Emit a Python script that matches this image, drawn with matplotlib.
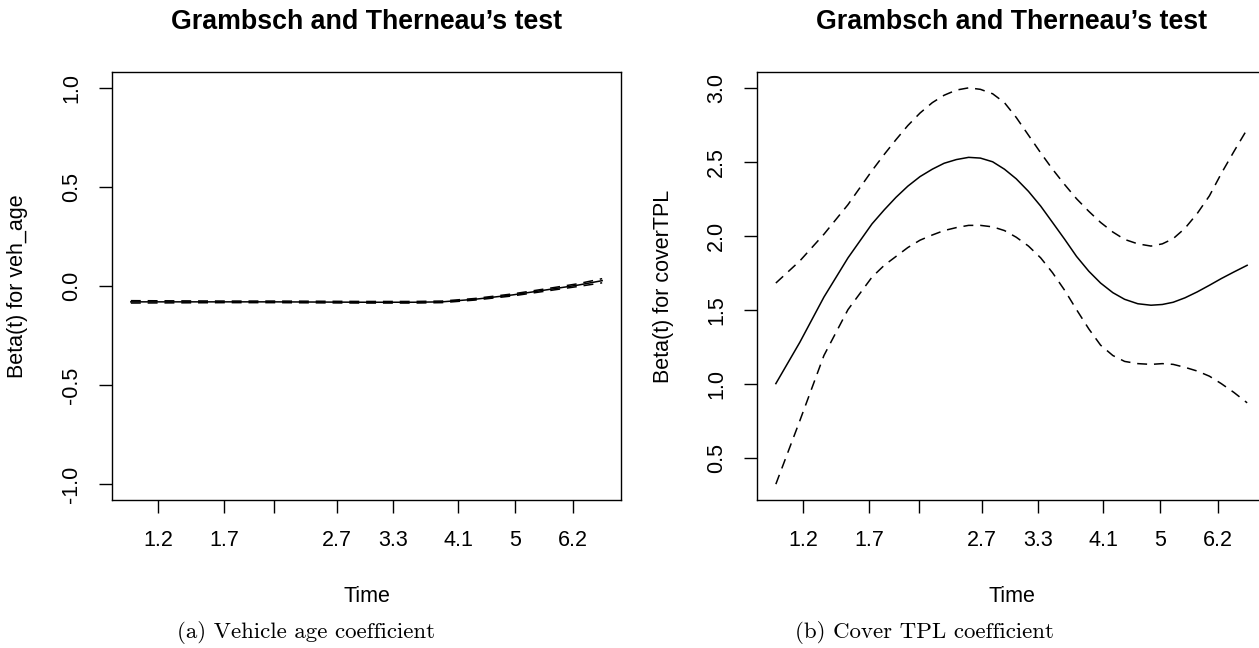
import matplotlib
matplotlib.use("Agg")
import matplotlib.pyplot as plt

plt.rcParams['font.family'] = ['Liberation Sans', 'DejaVu Sans']

# transformed time axis (0 = first event, 1 = last event)
tick_pos = [0.0576, 0.1977, 0.3038, 0.4375, 0.5563, 0.6943, 0.8152, 0.9383]
tick_labels = ['1.2', '1.7', '', '2.7', '3.3', '4.1', '5', '6.2']

# panel (a): vehicle age
xa = [0.0, 0.1, 0.2, 0.3, 0.4, 0.5, 0.6, 0.66, 0.73, 0.81, 0.9, 0.95, 1.0]
fit_a = [-0.080, -0.080, -0.080, -0.080, -0.081, -0.082, -0.082, -0.080, -0.067, -0.045, -0.013, 0.005, 0.027]
up_a = [-0.074, -0.075, -0.076, -0.076, -0.077, -0.078, -0.078, -0.076, -0.063, -0.040, -0.007, 0.012, 0.037]
lo_a = [-0.086, -0.085, -0.084, -0.084, -0.085, -0.086, -0.086, -0.084, -0.071, -0.050, -0.019, -0.002, 0.016]

# panel (b): cover TPL
xb = [0.0, 0.051, 0.102, 0.153, 0.204, 0.23, 0.255, 0.28, 0.306, 0.332, 0.357, 0.383, 0.409, 0.434,
      0.46, 0.485, 0.51, 0.536, 0.562, 0.587, 0.613, 0.638, 0.664, 0.689, 0.715, 0.740, 0.768,
      0.796, 0.82, 0.843, 0.868, 0.894, 0.92, 0.945, 0.972, 1.0]
fit_b = [1.00, 1.28, 1.585, 1.85, 2.08, 2.175, 2.26, 2.335, 2.40, 2.45, 2.49, 2.515, 2.53, 2.525,
         2.50, 2.45, 2.385, 2.30, 2.20, 2.09, 1.975, 1.86, 1.76, 1.68, 1.615, 1.57, 1.54,
         1.53, 1.535, 1.55, 1.58, 1.62, 1.665, 1.71, 1.755, 1.80]
up_b = [1.68, 1.83, 2.01, 2.21, 2.44, 2.55, 2.65, 2.745, 2.83, 2.90, 2.95, 2.985, 3.00, 2.99,
        2.96, 2.90, 2.80, 2.68, 2.56, 2.45, 2.345, 2.25, 2.165, 2.09, 2.025, 1.975, 1.945,
        1.93, 1.945, 1.98, 2.05, 2.15, 2.27, 2.42, 2.57, 2.72]
lo_b = [0.32, 0.75, 1.19, 1.50, 1.72, 1.80, 1.86, 1.92, 1.97, 2.005, 2.035, 2.055, 2.07, 2.07,
        2.06, 2.035, 1.99, 1.93, 1.85, 1.75, 1.63, 1.50, 1.37, 1.26, 1.19, 1.15, 1.135,
        1.13, 1.135, 1.13, 1.11, 1.085, 1.05, 1.0, 0.94, 0.87]

W, H = 1259, 648
fig = plt.figure(figsize=(W / 100, H / 100), dpi=100)

panels = [
    (112, xa, fit_a, up_a, lo_a, (-1.0, 1.0), [-1.0, -0.5, 0.0, 0.5, 1.0], 'Beta(t) for veh_age',
     '(a) Vehicle age coefficient', 177),
    (757, xb, fit_b, up_b, lo_b, (0.32, 3.0), [0.5, 1.0, 1.5, 2.0, 2.5, 3.0], 'Beta(t) for coverTPL',
     '(b) Cover TPL coefficient', 795),
]

for left, x, fit, up, lo, ylim, yticks, ylab, cap, cap_x in panels:
    ax = fig.add_axes([left / W, 1 - 500 / H, 509 / W, 428 / H])
    ax.plot(x, fit, color='black', lw=1.1)
    ax.plot(x, up, color='black', lw=1.1, dashes=(6.5, 4.5))
    ax.plot(x, lo, color='black', lw=1.1, dashes=(6.5, 4.5))
    ax.set_xlim(-0.04, 1.04)
    pad = (ylim[1] - ylim[0]) * 0.04
    ax.set_ylim(ylim[0] - pad, ylim[1] + pad)
    ax.set_xticks(tick_pos)
    ax.set_xticklabels(tick_labels)
    ax.set_yticks(yticks)
    ax.set_yticklabels(['%.1f' % v for v in yticks], rotation=90, va='center')
    ax.tick_params(direction='out', length=9.5, width=1, labelsize=15.5, pad=12)
    for s in ax.spines.values():
        s.set_linewidth(1)
    cx = (left + 254.5) / W
    fig.text(cx, 1 - 22 / H, 'Grambsch and Therneau\u2019s test', ha='center', va='center',
             fontsize=19.3, fontweight='bold')
    fig.text(cx, 1 - 596 / H, 'Time', ha='center', va='center', fontsize=15.5)
    fig.text((left - 94) / W, 1 - 286 / H, ylab, ha='center', va='center', rotation=90, fontsize=15.5)
    fig.text(cap_x / W, 1 - 632 / H, cap, ha='left', va='center', fontsize=16.5, family='cmr10')

fig.savefig('out.png', dpi=100)
